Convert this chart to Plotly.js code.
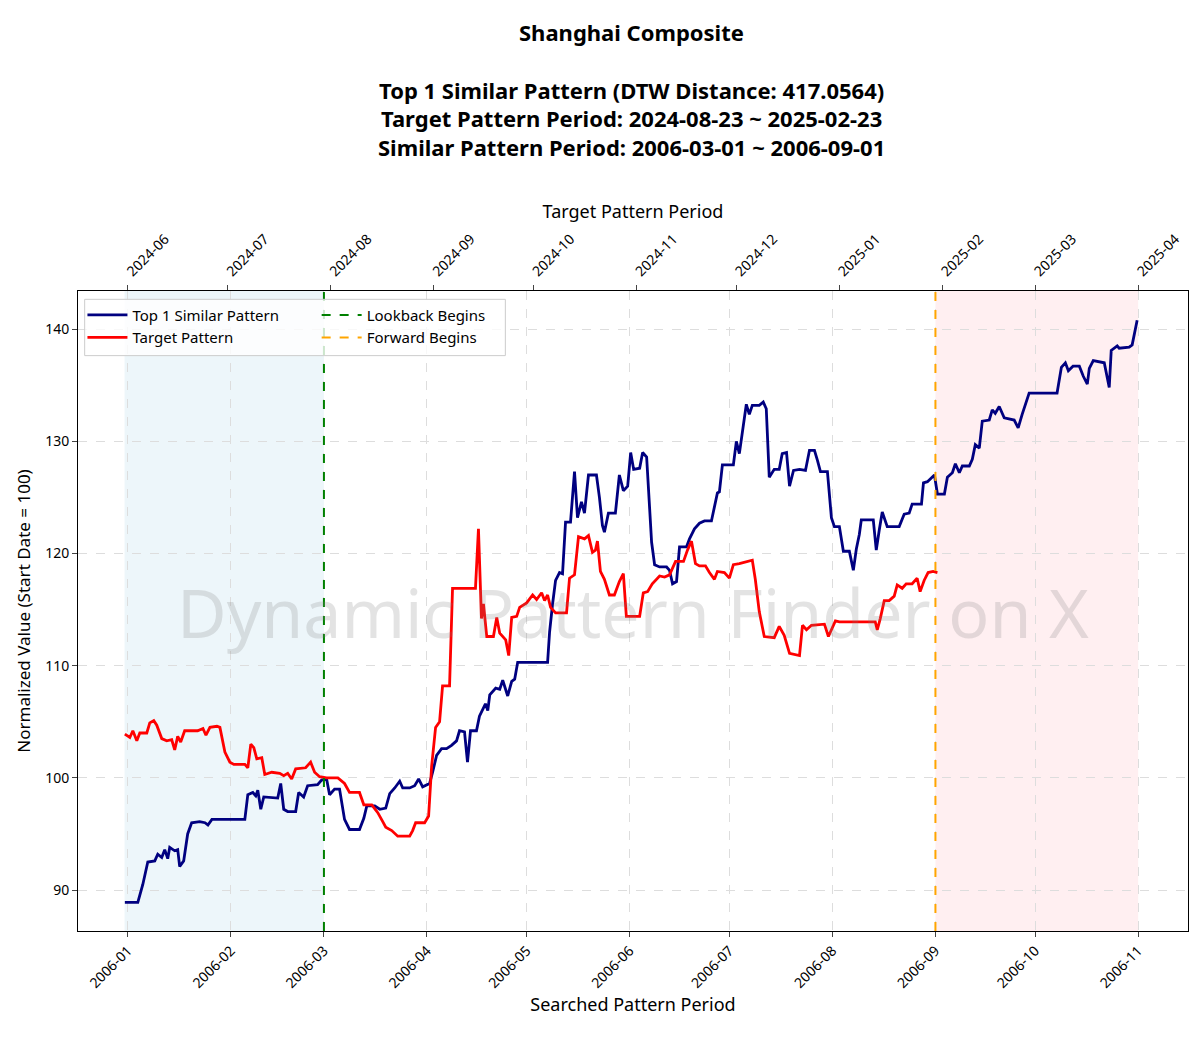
<!DOCTYPE html>
<html>
<head>
<meta charset="utf-8">
<script src="https://cdn.plot.ly/plotly-3.0.1.min.js"></script>
<style>body{margin:0;background:#fff}#chart{width:1200px;height:1037px}</style>
</head>
<body>
<div id="chart"></div>
<script>
// day offsets from 2006-01-01 (searched period) / 2024-06-01 (target period)
const searchStart = '2006-01-01';
const targetStart = '2024-06-01';

const blueDays = [-0.9,3,4.5,6,8.1,9,10.2,11.1,12,12.6,14.1,15,15.6,16.8,18,19.2,21.6,23.2,24.1,25.3,35.2,36.1,37.6,38.5,39.1,40,40.9,45.1,46,46.9,48.1,50.5,51.4,52.9,54.1,57.1,58.3,59.8,60.7,62.2,63.7,65.2,66.7,69.7,71,71.9,74.3,75.8,77.6,78.8,80.3,81.8,82.7,84.8,86.3,87.5,88.7,90.8,91.7,92.9,94.4,95.9,97.4,98.9,99.8,101.3,102.2,103.1,104.9,105.8,107.6,108.3,108.9,110.7,111.9,112.8,114.3,115.5,116.4,117.3,126.3,126.9,127.8,128.7,129.9,130.8,131.7,133.2,134.4,135.3,136.5,137.4,138.6,141,141.9,142.8,143.4,144.6,146.7,147.9,149.1,150.4,151.3,152.2,154,154.9,156.1,157.6,158.5,160,162.1,163,163.9,165.1,166,168.1,169,170.5,172,173.5,175.6,176.5,177.4,178,178.9,182.2,183.1,184,185.2,186.1,187,187.9,190,191.2,192.1,193,194.5,196,196.9,198.2,199.1,200.3,202.1,203.9,205.1,206.6,207.5,208.4,210.5,211.7,212.6,214.1,215.3,217.1,218.3,219.2,220.1,220.7,224.3,225.2,226.1,227,228.5,232.1,233.6,235.1,236,238.8,239.4,240.6,242.7,243.6,245.7,246.6,248.1,249,250.2,251.1,253.2,254.1,255,256.2,257.1,259.2,260.1,261,262.2,263.7,266.7,267.9,269.1,270,271.2,279.6,280.9,282.1,283,284.4,286.3,287.5,288.7,289.3,290.5,293.8,295.3,295.9,297.7,298.3,301.3,302.2,303.7];
const blueVals = [88.9,88.9,90.5,92.5,92.6,93.2,92.9,93.6,92.8,93.8,93.5,93.6,92.1,92.6,95,96,96.1,96,95.8,96.3,96.3,98.5,98.7,98.4,98.9,97.2,98.3,98.2,99.5,97.2,97,97,98.7,98.3,99.3,99.4,99.8,99.9,98.5,99,99,96.3,95.4,95.4,96.4,97.5,97.5,97.2,97.3,98.6,99.1,99.7,99.1,99.1,99.3,99.9,99.2,99.5,100.5,102,102.6,102.6,102.9,103.3,104.2,104.1,101.4,104.2,104.2,105.5,106.6,106,107.4,108,107.9,108.7,107.3,108.6,108.8,110.3,110.3,113,115.5,117.6,118.3,118.2,122.8,122.8,127.3,123.2,124.6,123.6,127,127,125,122.5,121.9,123.6,123.6,127,125.6,126,129,127.5,127.6,129,128.6,121,119,118.8,118.8,118.5,117.3,117.5,120.6,120.6,121.3,122.2,122.7,122.9,122.9,124.3,125.4,125.5,127.9,127.9,130,128.9,131.4,133.3,132.4,133.2,133.2,133.5,132.9,126.8,127.5,127.5,128.9,129,126,127.4,127.5,127.4,129.2,129.2,128.3,127.3,127.3,123.2,122.4,122.4,120.2,120.2,118.5,120.4,121.7,123,123,120.3,122.1,123.7,122.4,122.4,123.5,123.6,124.4,124.4,126.3,126.4,127,125.3,125.3,126.8,127.2,128,127.2,127.8,127.8,128.4,129.7,129.4,131.8,131.9,132.8,132.5,133.1,132.1,131.9,131.2,132.4,133.2,134.3,134.3,136.6,137,136.3,136.7,136.7,135.8,135.1,136.5,137.2,137,134.8,138.1,138.5,138.3,138.4,138.6,140.8];

const redDays = [-0.9,0.6,1.5,2.7,3.6,5.7,6.6,7.8,8.7,10.2,11.7,13.2,14.1,15,15.9,17.1,21,22.6,23.5,24.7,26.8,27.7,29.2,30.7,31.9,35.2,36.1,37,37.9,38.8,40.3,41.2,43.3,45.7,46.9,48.1,49.3,50.5,53.5,55,56.2,57.7,59.8,63.2,65.2,66.7,69.7,71,73.4,75.2,76.7,77.6,79.4,81.2,84.8,85.7,86.6,89.3,90.5,91.4,92.6,93.8,94.7,96.8,97.7,104.6,105.5,106.4,107,108,110,111,111.9,113.7,114.6,115.5,117,117.9,120,121.8,123,124.5,125.4,126.3,127.2,128.7,132,132.9,134.4,135.6,137.4,138.6,139.8,140.7,141.3,142.2,143.4,144.9,146.4,147.9,149.1,150,154,155.1,156.4,157.8,160,161.5,163,163.9,164.8,167.2,168.4,169.6,170.8,172,173.8,175,176.5,177.4,179.5,181,182.2,184,185.5,187,187.9,188.8,190,191.5,194.5,196,197.5,199.1,202.1,203,204.2,205.7,209.6,210.8,211.7,212.9,214.1,224.9,225.5,226.4,227.6,229.1,230.6,231.5,233,234.2,236,237.5,238.4,239.6,240.8,242.3,243.6];
const redVals = [103.9,103.6,104.2,103.3,104,104,104.9,105.1,104.7,103.5,103.3,103.4,102.5,103.7,103.2,104.2,104.2,104.4,103.8,104.5,104.6,104.5,102.3,101.4,101.2,101.2,100.9,103,102.7,101.7,101.8,100.3,100.5,100.4,100.2,100.4,99.9,100.8,100.9,101.4,100.5,100.1,100,100,99.5,98.7,98.7,97.6,97.6,96.9,96.1,95.6,95.3,94.8,94.8,95.3,96,96,96.6,101,104.5,105,108.2,108.2,116.9,116.9,122.2,114.2,115.5,112.6,112.6,114.3,112.9,112.3,110.9,114.3,114.4,115.2,115.6,116.3,115.9,116.5,115.8,116.3,115.2,114.7,114.7,117.8,118.1,121.5,121.3,121.6,120.1,120.3,121.1,118.4,117.7,116.3,116.3,117.5,118.2,114.4,114.4,116.5,116.6,117.3,118,117.9,118.1,118.7,119.3,119.3,120.3,121.1,119.1,118.9,118.9,118.3,117.7,118.4,118.3,117.8,119,119.1,119.2,119.3,119.4,117.7,114.8,112.6,112.5,113.5,112.7,111.1,110.9,113.6,113.2,113.6,113.7,112.6,113.2,114,113.9,113.9,113.2,114.2,115.8,115.8,116.2,117.2,116.9,117.3,117.3,117.8,116.6,117.6,118.3,118.4,118.3];

const lookbackStart = '2005-12-31', lookbackEnd = '2006-03-01';
const forwardStart = '2006-09-01', forwardEnd = '2006-11-01';

const titleLines = [
  'Shanghai Composite',
  'Top 1 Similar Pattern (DTW Distance: 417.0564)',
  'Target Pattern Period: 2024-08-23 ~ 2025-02-23',
  'Similar Pattern Period: 2006-03-01 ~ 2006-09-01'
];

const DAY = 86400000;
function toDates(base, days) {
  const b = new Date(base + 'T00:00:00Z').getTime();
  return days.map(d => new Date(b + d * DAY).toISOString().slice(0, 19));
}
const xRange = toDates(searchStart, [-15, 319]);
const x2Range = toDates(targetStart, [-15, 319]);

const data = [
  {x: toDates(searchStart, blueDays), y: blueVals, mode: 'lines', name: 'Top 1 Similar Pattern',
   line: {color: '#000080', width: 2.8}},
  {x: toDates(searchStart, redDays), y: redVals, mode: 'lines', name: 'Target Pattern',
   line: {color: '#ff0000', width: 2.8}},
  {x: [null], y: [null], mode: 'lines', name: 'Lookback Begins', legend: 'legend2',
   line: {color: 'green', dash: 'dash', width: 2}},
  {x: [null], y: [null], mode: 'lines', name: 'Forward Begins', legend: 'legend2',
   line: {color: 'orange', dash: 'dash', width: 2}},
  {x: x2Range, y: [100, 100], xaxis: 'x2', mode: 'markers', marker: {opacity: 0}, showlegend: false, hoverinfo: 'skip'}
];

const font = "'Noto Sans', 'DejaVu Sans', sans-serif";
const titleY = [1.405, 1.314, 1.270, 1.225];
const legendBase = {yanchor: 'top', y: 0.988, xanchor: 'left', bgcolor: 'rgba(0,0,0,0)',
  borderwidth: 0, font: {size: 15}, tracegroupgap: 0, itemwidth: 40};

const layout = {
  width: 1200, height: 1037,
  font: {family: font, size: 14, color: '#000'},
  margin: {l: 78, r: 12, t: 291, b: 106},
  paper_bgcolor: '#fff', plot_bgcolor: '#fff',
  xaxis: {type: 'date', range: xRange, dtick: 'M1', tick0: '2006-01-01', tickformat: '%Y-%m', tickangle: -45,
    showgrid: true, gridcolor: '#ddd', griddash: 'dash', showline: true, linecolor: '#000', mirror: true,
    ticks: 'outside', ticklen: 5, tickfont: {size: 14},
    title: {text: 'Searched Pattern Period', font: {size: 18}, standoff: 6}},
  xaxis2: {type: 'date', range: x2Range, overlaying: 'x', side: 'top', dtick: 'M1', tick0: '2024-06-01',
    tickformat: '%Y-%m', tickangle: -45, showgrid: false, ticks: 'outside', ticklen: 5, tickfont: {size: 14},
    title: {text: 'Target Pattern Period', font: {size: 18}, standoff: 6}},
  yaxis: {range: [86.35, 143.4], dtick: 10, showgrid: true, gridcolor: '#ddd', griddash: 'dash',
    showline: true, linecolor: '#000', mirror: true, ticks: 'outside', ticklen: 5, zeroline: false,
    tickfont: {size: 14}, title: {text: 'Normalized Value (Start Date = 100)', font: {size: 17}, standoff: 10}},
  shapes: [
    {type: 'rect', xref: 'x', yref: 'paper', x0: lookbackStart, x1: lookbackEnd, y0: 0, y1: 1,
     fillcolor: 'rgba(173,216,230,0.22)', line: {width: 0}, layer: 'below'},
    {type: 'rect', xref: 'x', yref: 'paper', x0: forwardStart, x1: forwardEnd, y0: 0, y1: 1,
     fillcolor: 'rgba(255,182,193,0.22)', line: {width: 0}, layer: 'below'},
    {type: 'line', xref: 'x', yref: 'paper', x0: lookbackEnd, x1: lookbackEnd, y0: 0, y1: 1,
     line: {color: 'green', dash: 'dash', width: 2}},
    {type: 'line', xref: 'x', yref: 'paper', x0: forwardStart, x1: forwardStart, y0: 0, y1: 1,
     line: {color: 'orange', dash: 'dash', width: 2}},
    // legend frame
    {type: 'rect', xref: 'paper', yref: 'paper', x0: 0.006, x1: 0.385, y0: 0.899, y1: 0.987,
     fillcolor: 'rgba(255,255,255,0.8)', line: {color: '#ccc', width: 1}, layer: 'above'}
  ],
  annotations: [
    {text: 'Dynamic Pattern Finder on X', xref: 'paper', yref: 'paper', x: 0.5, y: 0.5,
     showarrow: false, font: {size: 68, color: 'rgba(128,128,128,0.22)'}}
  ].concat(titleLines.map((t, i) => ({
    text: '<b>' + t + '</b>', xref: 'paper', yref: 'paper', x: 0.499, y: titleY[i],
    xanchor: 'center', yanchor: 'middle', showarrow: false, font: {size: 22}
  }))),
  legend: Object.assign({x: 0.004}, legendBase),
  legend2: Object.assign({x: 0.215}, legendBase),
  showlegend: true
};

Plotly.newPlot('chart', data, layout, {displayModeBar: false, staticPlot: true});
</script>
</body>
</html>
